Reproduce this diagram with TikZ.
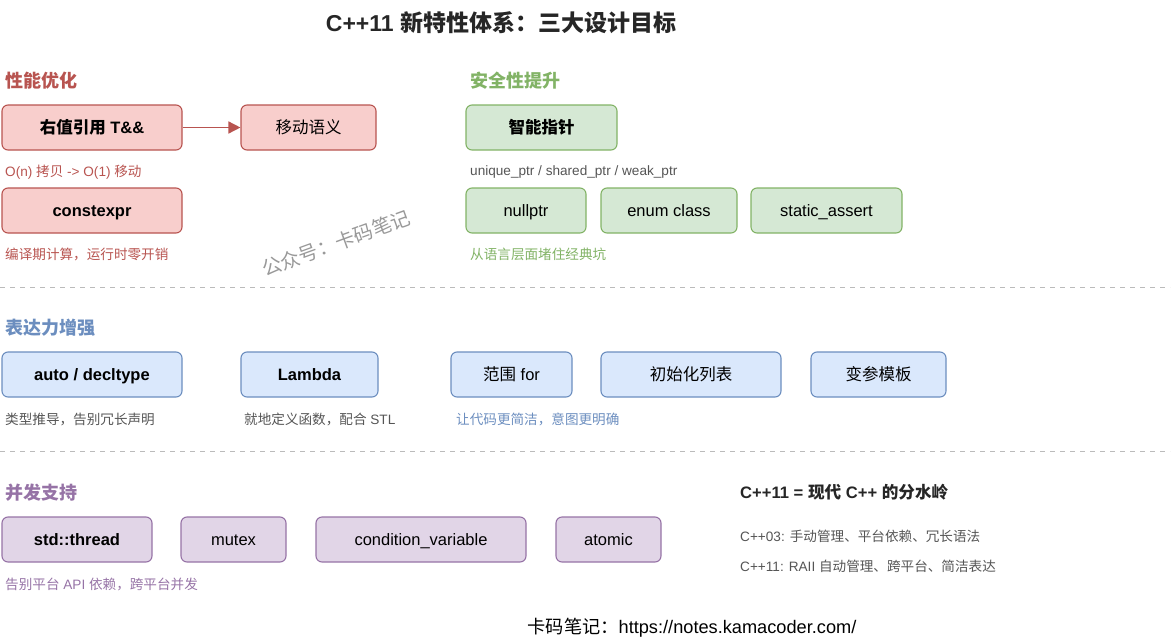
\documentclass[tikz,border=0pt]{standalone}
\usepackage{fontspec}
\setmainfont{Liberation Sans}
\newfontfamily\cjk{Noto Sans CJK SC}
\newcommand\zh[1]{{\cjk #1}}
\usetikzlibrary{arrows.meta}
\definecolor{rfill}{HTML}{F8CECC}\definecolor{rline}{HTML}{B85450}
\definecolor{gfill}{HTML}{D5E8D4}\definecolor{gline}{HTML}{82B366}
\definecolor{bfill}{HTML}{DAE8FC}\definecolor{bline}{HTML}{6C8EBF}
\definecolor{pfill}{HTML}{E1D5E7}\definecolor{pline}{HTML}{9673A6}
\definecolor{txtgray}{HTML}{555555}
\definecolor{dash}{HTML}{BBBBBB}
\tikzset{
  box/.style={draw, rounded corners=6pt, line width=1.1pt, minimum height=45pt, inner sep=0pt, text height=15pt, text depth=3pt, font=\fontsize{16.5}{20}\selectfont, text=black},
  boldbox/.style={font=\fontsize{16.5}{20}\selectfont\bfseries},
  rbox/.style={box, fill=rfill, draw=rline},
  gbox/.style={box, fill=gfill, draw=gline},
  bbox/.style={box, fill=bfill, draw=bline},
  pbox/.style={box, fill=pfill, draw=pline},
  heading/.style={anchor=west, inner sep=0pt, font=\fontsize{18}{21}\selectfont\bfseries},
  caption/.style={anchor=west, inner sep=0pt, font=\fontsize{13.6}{16}\selectfont},
  sep/.style={draw=dash, line width=1pt, dash pattern=on 5pt off 5pt},
}
\begin{document}
\begin{tikzpicture}[x=1pt,y=-1pt]
\useasboundingbox (0,0) rectangle (1175,640);
% title
\node[inner sep=0pt, font=\fontsize{23}{26}\selectfont\bfseries, text=black!85] (title) at (501,23) {C++11 \zh{新特性体系：三大设计目标}};
% performance
\node[heading, text=rline] (hperf) at (5,81) {\zh{性能优化}};
\node[rbox, boldbox, minimum width=180pt] (rref) at (92,127.5) {\zh{右值引用} T\&\&};
\node[rbox, minimum width=135pt] (move) at (308.5,127.5) {\zh{移动语义}};
\draw[rline, line width=1.5pt, -{Triangle[length=12pt,width=12pt]}] (rref) -- (move);
\node[caption, text=rline] (cmove) at (5,172) {O(n) \zh{拷贝} -> O(1) \zh{移动}};
\node[rbox, boldbox, minimum width=180pt] (cexpr) at (92,210.5) {constexpr};
\node[caption, text=rline] (ccexpr) at (5,254) {\zh{编译期计算，运行时零开销}};
% watermark
\node[rotate=20, text=black!40, font=\fontsize{19.5}{22}\selectfont] (wm) at (336,243) {\zh{公众号：卡码笔记}};
% safety
\node[heading, text=gline] (hsafe) at (470,81) {\zh{安全性提升}};
\node[gbox, boldbox, minimum width=151pt] (smart) at (541.5,127.5) {\zh{智能指针}};
\node[caption, text=txtgray] (cptr) at (470,172) {unique\_ptr / shared\_ptr / weak\_ptr};
\node[gbox, minimum width=120pt] (nullp) at (526,210.5) {nullptr};
\node[gbox, minimum width=136pt] (enumc) at (669,210.5) {enum class};
\node[gbox, minimum width=151pt] (sassert) at (826.5,210.5) {static\_assert};
\node[caption, text=gline] (csafe) at (470,254) {\zh{从语言层面堵住经典坑}};
% separator 1
\coordinate (s1a) at (0,287); \coordinate (s1b) at (1170,287);
\draw[sep] (s1a) -- (s1b);
% expressiveness
\node[heading, text=bline] (hexpr) at (5,328) {\zh{表达力增强}};
\node[bbox, boldbox, minimum width=180pt] (auto) at (92,374.5) {auto / decltype};
\node[bbox, boldbox, minimum width=137pt] (lambda) at (309.5,374.5) {Lambda};
\node[bbox, minimum width=121pt] (rfor) at (511.5,374.5) {\zh{范围} for};
\node[bbox, minimum width=180pt] (init) at (691,374.5) {\zh{初始化列表}};
\node[bbox, minimum width=135pt] (vtmpl) at (878.5,374.5) {\zh{变参模板}};
\node[caption, text=txtgray] (cauto) at (5,419) {\zh{类型推导，告别冗长声明}};
\node[caption, text=txtgray] (clambda) at (244,419) {\zh{就地定义函数，配合} STL};
\node[caption, text=bline] (cexp) at (456,419) {\zh{让代码更简洁，意图更明确}};
% separator 2
\coordinate (s2a) at (0,451); \coordinate (s2b) at (1170,451);
\draw[sep] (s2a) -- (s2b);
% concurrency
\node[heading, text=pline] (hconc) at (5,493) {\zh{并发支持}};
\node[pbox, boldbox, minimum width=150pt] (thread) at (77,539.5) {std::thread};
\node[pbox, minimum width=105pt] (mutex) at (233.5,539.5) {mutex};
\node[pbox, minimum width=210pt] (cv) at (421,539.5) {condition\_variable};
\node[pbox, minimum width=105pt] (atomic) at (608.5,539.5) {atomic};
\node[caption, text=pline] (cconc) at (5,584) {\zh{告别平台} API \zh{依赖，跨平台并发}};
% summary
\node[anchor=west, inner sep=0pt, font=\fontsize{16.6}{20}\selectfont\bfseries, text=black!85] (sum) at (740,492) {C++11 = \zh{现代} C++ \zh{的分水岭}};
\node[caption, text=txtgray] (c03) at (740,536) {C++03: \zh{手动管理、平台依赖、冗长语法}};
\node[caption, text=txtgray] (c11) at (740,566) {C++11: RAII \zh{自动管理、跨平台、简洁表达}};
% footer
\node[inner sep=0pt, font=\fontsize{18.2}{21}\selectfont, text=black] (foot) at (692,628) {\zh{卡码笔记：}https://notes.kamacoder.com/};
\end{tikzpicture}
\end{document}
